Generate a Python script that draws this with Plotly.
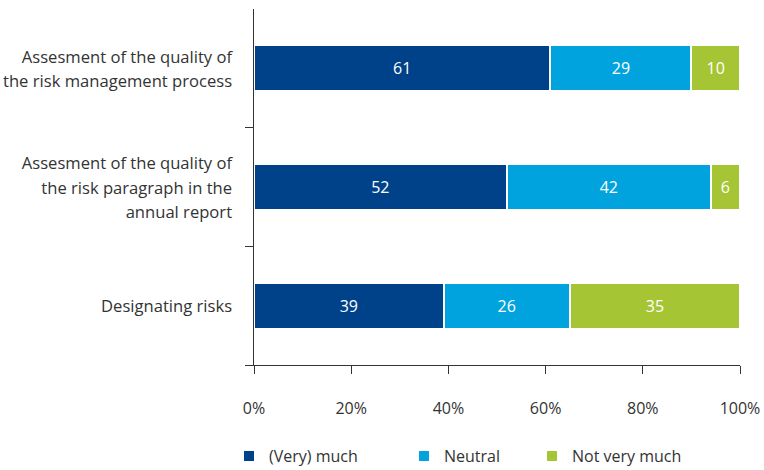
import plotly.graph_objects as go

categories = [
    "Assesment of the quality of<br>the risk management process",
    "Assesment of the quality of<br>the risk paragraph in the<br>annual report",
    "Designating risks",
]
very_much = [61, 52, 39]
neutral = [29, 42, 26]
not_very = [10, 6, 35]
series_names = ["(Very) much", "Neutral", "Not very much"]
series_values = [very_much, neutral, not_very]
colors = ["#00428a", "#00a3dd", "#a6c534"]
tick_vals = [0, 20, 40, 60, 80, 100]
tick_text = ["0%", "20%", "40%", "60%", "80%", "100%"]

FONT = "Open Sans"
TXT = "#333333"
FS = 16

def wrap(label):
    return "<br>".join(f"<span style='font-size:16.6px'>{p}</span>" for p in label.split("<br>"))

fig = go.Figure()
legend_ids = ["legend", "legend2", "legend3"]
for name, vals, col, lg in zip(series_names, series_values, colors, legend_ids):
    fig.add_trace(go.Bar(
        y=categories, x=vals, name=name, orientation="h",
        marker=dict(color=col, line=dict(color="white", width=2)),
        text=[str(v) for v in vals], textposition="inside",
        insidetextanchor="middle",
        textfont=dict(color="white", size=FS, family=FONT),
        legend=lg, hoverinfo="skip", showlegend=True,
    ))

leg_common = dict(orientation="h", yanchor="middle", xanchor="left",
                  xref="container", yref="container",
                  font=dict(size=FS, family=FONT, color=TXT),
                  bgcolor="rgba(0,0,0,0)", borderwidth=0, visible=True)
LY = 1 - 456 / 470

fig.update_layout(
    width=764, height=470,
    showlegend=True,
    margin=dict(l=254, r=24, t=9, b=105, autoexpand=False),
    plot_bgcolor="white", paper_bgcolor="white",
    barmode="stack", bargap=0.61,
    font=dict(family=FONT, color=TXT, size=FS),
    legend=dict(x=229 / 764, y=LY, **leg_common),
    legend2=dict(x=404 / 764, y=LY, **leg_common),
    legend3=dict(x=532 / 764, y=LY, **leg_common),
    xaxis=dict(range=[0, 100], tickvals=tick_vals, ticktext=tick_text,
               showgrid=False, zeroline=False, showline=True,
               linecolor="#333333", linewidth=1.3, ticks="outside",
               ticklen=8, tickcolor="#333333", tickwidth=1.3, ticklabelstandoff=21,
               tickfont=dict(size=FS, family=FONT, color=TXT), fixedrange=True),
    yaxis=dict(categoryorder="array", categoryarray=categories[::-1],
               tickmode="array", tickvals=categories,
               ticktext=[wrap(c) for c in categories],
               showgrid=False, zeroline=False, showline=True,
               linecolor="#333333", linewidth=1.3, ticks="outside",
               tickson="boundaries", ticklen=8, tickcolor="#333333", tickwidth=1.3,
               tickfont=dict(size=19, family=FONT, color=TXT), ticklabelstandoff=17),
)
fig.write_html("out.html")
